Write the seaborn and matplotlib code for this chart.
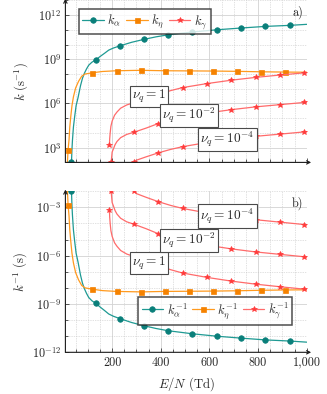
import numpy as np
import pandas as pd
import matplotlib
matplotlib.use("Agg")
import matplotlib.pyplot as plt
from matplotlib.ticker import FixedLocator, NullFormatter
import seaborn as sns

# E/N (Td) and log10 of the rate k (s^-1)
alpha_en = [33, 35, 37, 41, 46, 52, 60, 70, 78, 86, 95, 104, 117, 132, 150, 170, 186, 205,
            232, 280, 331, 380, 430, 530, 630, 730, 830, 930, 1000]
alpha_log = [2.0, 2.9, 3.5, 4.4, 5.1, 5.85, 6.4, 7.2, 7.7, 8.05, 8.35, 8.6, 8.8, 8.95, 9.18,
             9.42, 9.62, 9.76, 9.91, 10.15, 10.35, 10.52, 10.66, 10.85, 11.0, 11.12, 11.23,
             11.30, 11.37]
alpha_marks = [0, 13, 18, 20, 22, 23, 24, 25, 26, 27]

eta_en = [16, 19, 21, 23, 26, 30, 35, 41, 50, 62, 75, 89, 118, 160, 218, 317, 416, 515, 614,
          713, 812, 912, 1000]
eta_log = [1.9, 2.84, 3.2, 3.55, 4.4, 5.1, 5.85, 6.45, 7.05, 7.5, 7.85, 8.0, 8.08, 8.17, 8.22,
           8.25, 8.22, 8.21, 8.2, 8.18, 8.15, 8.13, 8.12]
eta_marks = [1, 12, 14, 15, 16, 17, 18, 19, 20, 21]

gam1_en = [189, 190, 192, 195, 200, 210, 220, 235, 260, 290, 340, 390, 440, 490, 590, 690,
           790, 890, 990, 1000]
gam1_log = [3.18, 3.6, 4.0, 4.45, 4.8, 5.2, 5.42, 5.68, 5.9, 6.05, 6.35, 6.62, 6.87, 7.08,
            7.35, 7.58, 7.77, 7.93, 8.08, 8.1]
gam1_marks = [0, 9, 11, 13, 14, 15, 16, 17, 18]

gam2_en = [196, 200, 205, 212, 220, 235, 260, 290, 340, 390, 440, 490, 590, 690, 790, 890,
           990, 1000]
gam2_log = [2.0, 2.7, 2.9, 3.2, 3.42, 3.68, 3.9, 4.05, 4.33, 4.64, 4.87, 5.07, 5.35, 5.58,
            5.77, 5.92, 6.07, 6.09]
gam2_marks = [0, 7, 9, 11, 12, 13, 14, 15, 16]

gam4_en = [288, 300, 340, 390, 440, 490, 590, 690, 790, 890, 990, 1000]
gam4_log = [2.0, 2.15, 2.38, 2.65, 2.88, 3.07, 3.35, 3.58, 3.77, 3.92, 4.07, 4.09]
gam4_marks = [0, 3, 5, 6, 7, 8, 9, 10]

nu_labels = [r"$\nu_q = 1$", r"$\nu_q = 10^{-2}$", r"$\nu_q = 10^{-4}$"]
nu_label_en = [350, 515, 674]
nu_label_top = [6.49, 5.18, 3.56]
nu_label_bot = [-6.46, -5.06, -3.55]

x_ticks = [200, 400, 600, 800, 1000]
x_ticklabels = ["200", "400", "600", "800", "1,000"]

TEAL = "#0a7f7a"
TEAL_L = "#1f9a93"
ORANGE = "#f58200"
ORANGE_L = "#ff9a1f"
RED = "#ff3b3b"
RED_L = "#ff6b6b"

sns.set_theme(style="white")
plt.rcParams["font.family"] = ["cmr10", "DejaVu Serif"]
plt.rcParams["mathtext.fontset"] = "cm"
plt.rcParams["axes.formatter.use_mathtext"] = True
plt.rcParams["axes.unicode_minus"] = False

fig = plt.figure(figsize=(3.27, 3.94), dpi=100)
ax_top = fig.add_axes([0.2, 0.5878, 0.7382, 0.4114])
ax_bot = fig.add_axes([0.2, 0.1058, 0.7382, 0.4089])


def draw_series(ax, en, logk, marks, color, lcolor, marker, ms, label, invert):
    k = 10.0 ** np.array(logk)
    if invert:
        k = 1.0 / k
    df = pd.DataFrame({"en": en, "k": k})
    sns.lineplot(data=df, x="en", y="k", ax=ax, color=lcolor, lw=0.9, marker=marker,
                 markersize=ms, markevery=marks, markerfacecolor=color,
                 markeredgecolor=color, markeredgewidth=0.5, label=label, sort=False,
                 estimator=None, legend=False)


for ax, invert in [(ax_top, False), (ax_bot, True)]:
    ax.set_yscale("log")
    sup = r"^{-1}" if invert else ""
    draw_series(ax, alpha_en, alpha_log, alpha_marks, TEAL, TEAL_L, "o", 4.0,
                r"$k_\alpha" + sup + "$", invert)
    draw_series(ax, eta_en, eta_log, eta_marks, ORANGE, ORANGE_L, "s", 3.6,
                r"$k_\eta" + sup + "$", invert)
    draw_series(ax, gam1_en, gam1_log, gam1_marks, RED, RED_L, "*", 3.8,
                r"$k_\gamma" + sup + "$", invert)
    draw_series(ax, gam2_en, gam2_log, gam2_marks, RED, RED_L, "*", 3.8, None, invert)
    draw_series(ax, gam4_en, gam4_log, gam4_marks, RED, RED_L, "*", 3.8, None, invert)

    ax.set_xlim(8, 1000)
    ax.xaxis.set_major_locator(FixedLocator(x_ticks))
    ax.xaxis.set_minor_locator(FixedLocator([v for v in range(50, 1000, 50) if v % 200]))
    ax.grid(True, which="major", color="#d2d2d2", lw=0.6, ls="-")
    ax.grid(True, which="minor", color="#c4c4c4", lw=0.5, ls=(0, (1, 1.5)))
    ax.set_axisbelow(True)
    for side in ["top", "right", "left", "bottom"]:
        ax.spines[side].set_visible(False)
    ax.annotate("", xy=(1.018, 0), xytext=(0, 0), xycoords="axes fraction",
                arrowprops=dict(arrowstyle="->", lw=0.8, color="k",
                                shrinkA=0, shrinkB=0, mutation_scale=6))
    ax.annotate("", xy=(0, 1.01), xytext=(0, 0), xycoords="axes fraction",
                arrowprops=dict(arrowstyle="->", lw=0.8, color="k",
                                shrinkA=0, shrinkB=0, mutation_scale=6))
    ax.tick_params(axis="both", which="both", direction="in", color="k", width=0.5,
                   labelsize=8.8, pad=3, bottom=True, left=True)
    ax.tick_params(which="major", length=3)
    ax.tick_params(which="minor", length=2)

# top panel
ax_top.set_ylim(1e2, 1e13)
ax_top.yaxis.set_major_locator(FixedLocator([1e3, 1e6, 1e9, 1e12]))
ax_top.yaxis.set_minor_locator(FixedLocator([10.0 ** p for p in range(2, 14) if p % 3]))
ax_top.set_yticklabels([r"$10^{3}$", r"$10^{6}$", r"$10^{9}$", r"$10^{12}$"])
ax_top.yaxis.set_minor_formatter(NullFormatter())
ax_top.set_xticklabels([])
ax_top.set_xlabel("")
ax_top.set_ylabel(r"$k\ (\mathrm{s}^{-1})$", fontsize=9.2, labelpad=6)
ax_top.text(0.985, 0.965, "a)", transform=ax_top.transAxes, ha="right", va="top",
            fontsize=8.8)
for lab, xx, yy in zip(nu_labels, nu_label_en, nu_label_top):
    ax_top.text(xx, 10.0 ** yy, lab, ha="center", va="center", fontsize=9.6, zorder=5,
                bbox=dict(boxstyle="square,pad=0.15", fc="white", ec="#4a4a4a", lw=0.8))
leg = ax_top.legend(loc="upper left", bbox_to_anchor=(0.055, 0.948), ncol=3,
                    fontsize=9, frameon=True, fancybox=False, borderaxespad=0,
                    handlelength=1.7, handletextpad=0.3, columnspacing=0.4,
                    borderpad=0.3)
leg.get_frame().set_edgecolor("#222222")
leg.get_frame().set_linewidth(1.1)

# bottom panel
ax_bot.set_ylim(1e-12, 1e-2)
ax_bot.yaxis.set_major_locator(FixedLocator([1e-12, 1e-9, 1e-6, 1e-3]))
ax_bot.yaxis.set_minor_locator(FixedLocator([10.0 ** p for p in range(-12, -1) if p % 3]))
ax_bot.set_yticklabels([r"$10^{-12}$", r"$10^{-9}$", r"$10^{-6}$", r"$10^{-3}$"])
ax_bot.yaxis.set_minor_formatter(NullFormatter())
ax_bot.set_xticklabels(x_ticklabels)
ax_bot.set_xlabel(r"$E/N$ (Td)", fontsize=9.2, labelpad=5)
ax_bot.set_ylabel(r"$k^{-1}$ (s)", fontsize=9.2, labelpad=2)
ax_bot.text(0.985, 0.965, "b)", transform=ax_bot.transAxes, ha="right", va="top",
            fontsize=8.8)
for lab, xx, yy in zip(nu_labels, nu_label_en, nu_label_bot):
    ax_bot.text(xx, 10.0 ** yy, lab, ha="center", va="center", fontsize=9.6, zorder=5,
                bbox=dict(boxstyle="square,pad=0.15", fc="white", ec="#4a4a4a", lw=0.8))
leg = ax_bot.legend(loc="upper left", bbox_to_anchor=(0.301, 0.341), ncol=3,
                    fontsize=9, frameon=True, fancybox=False, borderaxespad=0,
                    handlelength=1.7, handletextpad=0.3, columnspacing=0.4,
                    borderpad=0.3)
leg.get_frame().set_edgecolor("#222222")
leg.get_frame().set_linewidth(1.1)

fig.savefig("out.png", dpi=100)
